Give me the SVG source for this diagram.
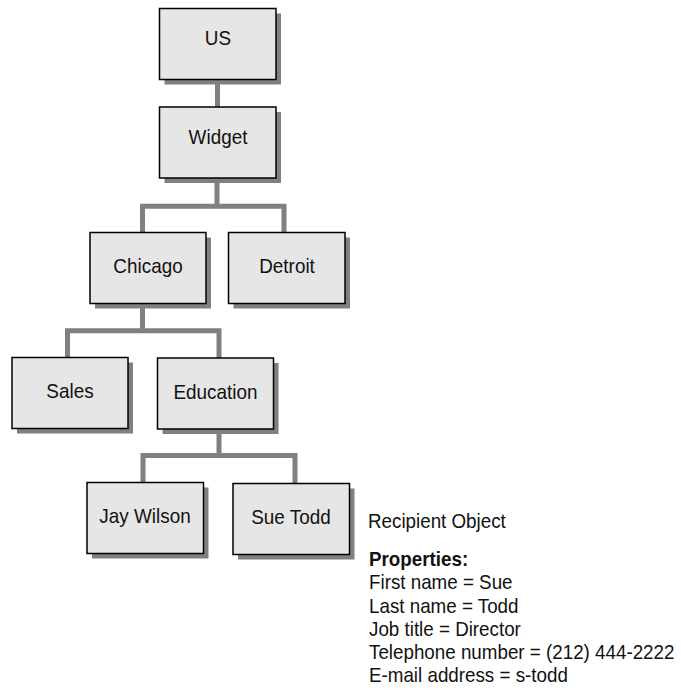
<svg xmlns="http://www.w3.org/2000/svg" width="681" height="690" viewBox="0 0 681 690">
  <style>
    .conn { fill: none; stroke: #808080; stroke-width: 5; stroke-linejoin: miter; stroke-linecap: butt; }
    .shadow { fill: #808080; }
    .box { fill: #e6e6e6; stroke: #000; stroke-width: 1.5; }
    .lbl { font-family: "Liberation Sans", Arial, sans-serif; font-size: 21px; fill: #111; text-anchor: middle;
           transform-box: fill-box; transform-origin: center; transform: scaleX(0.9); }
    .info { font-family: "Liberation Sans", Arial, sans-serif; font-size: 20px; fill: #111;
            transform-box: fill-box; transform-origin: 0 50%; transform: scaleX(0.94); }
    .bold { font-weight: bold; }
  </style>
  <rect width="681" height="690" fill="#fff"/>

  <!-- tree connectors -->
  <g id="connectors">
    <path class="conn" d="M217.5 79 V107"/>
    <path class="conn" d="M217 178 V206.2 M142.5 232 V206.2 H284 V232"/>
    <path class="conn" d="M142.5 303 V330.8 M67.5 357 V330.8 H219 V358"/>
    <path class="conn" d="M219 428 V455.5 M143 482 V455.5 H295 V483"/>
  </g>

  <g id="node-us">
    <rect class="shadow" x="164.5" y="13.5" width="116.5" height="71"/>
    <rect class="box" x="159.5" y="8.5" width="116.5" height="71"/>
    <text class="lbl" x="218" y="45">US</text>
  </g>

  <g id="node-widget">
    <rect class="shadow" x="164.5" y="112" width="116.5" height="71"/>
    <rect class="box" x="159.5" y="107" width="116.5" height="71"/>
    <text class="lbl" x="218" y="144.5">Widget</text>
  </g>

  <g id="node-chicago">
    <rect class="shadow" x="95" y="237.5" width="116" height="71"/>
    <rect class="box" x="90" y="232.5" width="116" height="71"/>
    <text class="lbl" x="148" y="273.5">Chicago</text>
  </g>

  <g id="node-detroit">
    <rect class="shadow" x="233.5" y="237.5" width="116.5" height="71"/>
    <rect class="box" x="228.5" y="232.5" width="116.5" height="71"/>
    <text class="lbl" x="287" y="273.5">Detroit</text>
  </g>

  <g id="node-sales">
    <rect class="shadow" x="17" y="362.5" width="116" height="71"/>
    <rect class="box" x="12" y="357.5" width="116" height="71"/>
    <text class="lbl" x="70" y="398.5">Sales</text>
  </g>

  <g id="node-education">
    <rect class="shadow" x="162.5" y="363" width="116" height="71"/>
    <rect class="box" x="157.5" y="358" width="116" height="71"/>
    <text class="lbl" x="215.5" y="399.5">Education</text>
  </g>

  <g id="node-jay-wilson">
    <rect class="shadow" x="92" y="487.5" width="116.5" height="71"/>
    <rect class="box" x="87" y="482.5" width="116.5" height="71"/>
    <text class="lbl" x="145" y="523.5">Jay Wilson</text>
  </g>

  <g id="node-sue-todd">
    <rect class="shadow" x="238" y="488.5" width="116.5" height="71"/>
    <rect class="box" x="233" y="483.5" width="116.5" height="71"/>
    <text class="lbl" x="291" y="524.5">Sue Todd</text>
  </g>

  <!-- recipient object details -->
  <g id="recipient-info">
    <text class="info" x="368" y="528.5">Recipient Object</text>
    <text class="info bold" x="369" y="566">Properties:</text>
    <text class="info" x="369" y="589.5">First name = Sue</text>
    <text class="info" x="369" y="613">Last name = Todd</text>
    <text class="info" x="369" y="636">Job title = Director</text>
    <text class="info" x="369" y="659.5">Telephone number = (212) 444-2222</text>
    <text class="info" x="369" y="682.5">E-mail address = s-todd</text>
  </g>
</svg>
